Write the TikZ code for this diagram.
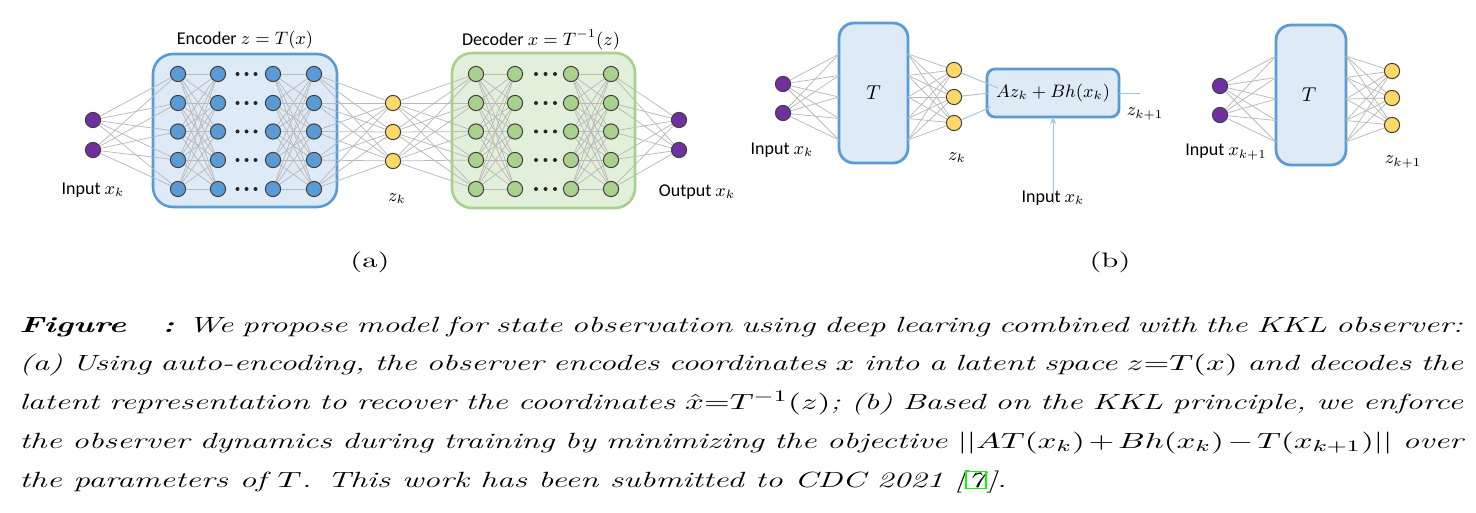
\documentclass[tikz,border=0pt]{standalone}
\usepackage{fontspec}
\newfontfamily\diagfont{Carlito}
\usetikzlibrary{arrows.meta}
\definecolor{encfill}{HTML}{DEEAF6}
\definecolor{encline}{HTML}{5B9BD5}
\definecolor{nblue}{HTML}{5B9BD5}
\definecolor{decfill}{HTML}{E2EFDA}
\definecolor{decline}{HTML}{A9D18E}
\definecolor{ngreen}{HTML}{A9D18E}
\definecolor{nyellow}{HTML}{FFD966}
\definecolor{npurple}{HTML}{7030A0}
\definecolor{bline}{HTML}{9DC3E6}
\definecolor{linkgreen}{HTML}{00FF00}
\pgfdeclarelayer{boxes}
\pgfdeclarelayer{lines}
\pgfsetlayers{boxes,lines,main}
\begin{document}
\begin{tikzpicture}[x=0.5pt,y=-0.5pt,
  neuron/.style={circle,draw=black!75,line width=0.5pt,minimum size=7.6pt,inner sep=0pt},
  nb/.style={neuron,fill=nblue},
  ng/.style={neuron,fill=ngreen},
  ny/.style={neuron,fill=nyellow},
  np/.style={neuron,fill=npurple},
  conn/.style={draw=black!27,line width=0.38pt},
  bconn/.style={draw=bline,line width=0.45pt},
  lbl/.style={font=\diagfont\fontsize{9}{10}\selectfont,inner sep=0pt},
  tlbl/.style={font=\fontsize{10}{11}\selectfont,inner sep=0pt},
  encbox/.style={fill=encfill,draw=encline,line width=1.3pt,rounded corners=10pt},
  decbox/.style={fill=decfill,draw=decline,line width=1.3pt,rounded corners=10pt},
  tbox/.style={fill=encfill,draw=encline,line width=1.4pt,rounded corners=7.5pt},
  abbox/.style={fill=encfill,draw=encline,line width=1.4pt,rounded corners=4pt},
  dotsty/.style={fill=black!85},
  panel/.style={font=\fontsize{10.5}{12}\selectfont,inner sep=0pt}]
\path[use as bounding box] (0,0) rectangle (1476,513);

% ---------------- panel (a) ----------------
\begin{pgfonlayer}{boxes}
\draw[encbox] (153,54) rectangle (337,207);
\draw[decbox] (452,53) rectangle (635,208);
\end{pgfonlayer}

\node[np] (in1) at (93,120) {};
\node[np] (in2) at (93,150) {};
\foreach \c/\x in {1/178,2/218,3/273,4/314}
  \foreach \r/\y in {1/74,2/103,3/131.5,4/160,5/189}
    \node[nb] (e\c-\r) at (\x,\y) {};
\node[ny] (z1) at (393,103) {};
\node[ny] (z2) at (393,132) {};
\node[ny] (z3) at (393,161) {};
\foreach \c/\x in {1/476,2/515,3/571,4/611}
  \foreach \r/\y in {1/74,2/103,3/131.5,4/160,5/189}
    \node[ng] (d\c-\r) at (\x,\y) {};
\node[np] (out1) at (679,120) {};
\node[np] (out2) at (679,150) {};

\foreach \y in {74,103,131.5,160,189}{
  \fill[dotsty] (237.5,\y) circle (1pt) (246.5,\y) circle (1pt) (255.5,\y) circle (1pt);
  \fill[dotsty] (536,\y) circle (1pt) (545.5,\y) circle (1pt) (555,\y) circle (1pt);
}

\begin{pgfonlayer}{lines}
\foreach \i in {1,2}
  \foreach \r in {1,...,5}{
    \draw[conn] (in\i) -- (e1-\r);
    \draw[conn] (d4-\r) -- (out\i);
  }
\foreach \a in {1,...,5}
  \foreach \b in {1,...,5}{
    \draw[conn] (e1-\a) -- (e2-\b);
    \draw[conn] (e3-\a) -- (e4-\b);
    \draw[conn] (d1-\a) -- (d2-\b);
    \draw[conn] (d3-\a) -- (d4-\b);
  }
\foreach \a in {1,...,5}
  \foreach \k in {1,2,3}{
    \draw[conn] (e4-\a) -- (z\k);
    \draw[conn] (z\k) -- (d1-\a);
  }
\end{pgfonlayer}

\node[lbl] (enclabel) at (245,40) {Encoder $z = T(x)$};
\node[lbl] (declabel) at (541,40) {Decoder $x = T^{-1}(z)$};
\node[lbl] (inlabel) at (93,190) {Input $x_k$};
\node[lbl] (zklabel) at (397,199) {$z_k$};
\node[lbl] (outlabel) at (697,192) {Output $x_k$};

% ---------------- panel (b) ----------------
\begin{pgfonlayer}{boxes}
\draw[tbox] (839,23) rectangle (908,163);
\draw[abbox] (987,69) rectangle (1119,117);
\draw[tbox] (1276,25) rectangle (1346,165);
\end{pgfonlayer}
\node[tlbl] (tone) at (873.5,93) {$T$};
\node[lbl] (abtext) at (1053,93) {$Az_k + Bh(x_k)$};
\node[tlbl] (ttwo) at (1309,95) {$T$};

\node[np] (b1) at (783,84) {};
\node[np] (b2) at (783,113) {};
\node[ny] (zb1) at (954,70) {};
\node[ny] (zb2) at (954,97) {};
\node[ny] (zb3) at (954,123) {};
\node[np] (c1) at (1220,86) {};
\node[np] (c2) at (1220,115) {};
\node[ny] (zc1) at (1392,71) {};
\node[ny] (zc2) at (1392,98) {};
\node[ny] (zc3) at (1392,125) {};

\foreach \r/\y in {1/54,2/75.5,3/97,4/118.5,5/140}{
  \coordinate (tl\r) at (839,\y);
  \coordinate (tr\r) at (908,\y);
}
\foreach \r/\y in {1/56,2/77.5,3/99,4/120.5,5/142}{
  \coordinate (ul\r) at (1276,\y);
  \coordinate (ur\r) at (1346,\y);
}
\begin{pgfonlayer}{lines}
\foreach \r in {1,...,5}{
  \foreach \i in {1,2}{
    \draw[conn] (b\i) -- (tl\r);
    \draw[conn] (c\i) -- (ul\r);
  }
  \foreach \k in {1,2,3}{
    \draw[conn] (tr\r) -- (zb\k);
    \draw[conn] (ur\r) -- (zc\k);
  }
}
\end{pgfonlayer}

\coordinate (abin1) at (998,88);
\coordinate (abin2) at (989,93);
\coordinate (abin3) at (991,107);
\draw[bconn] (zb1) -- (abin1);
\draw[bconn] (zb2) -- (abin2);
\draw[bconn] (zb3) -- (abin3);
\coordinate (abbot) at (1053,117);
\coordinate (abright) at (1119,93);
\coordinate (zout) at (1140,93);
\draw[bconn] (abright) -- (zout);

\node[lbl] (binlabel) at (782,150) {Input $x_k$};
\node[lbl] (zbklabel) at (957,158) {$z_k$};
\node[lbl] (zkonelabel) at (1145,114) {$z_{k+1}$};
\node[lbl] (inxlabel) at (1053,198) {Input $x_k$};
\draw[bconn,-{Stealth[length=3.5pt,width=3pt]}] ([yshift=-7pt]inxlabel.north) -- (abbot);
\node[lbl] (cinlabel) at (1226,152) {Input $x_{k+1}$};
\node[lbl] (zcklabel) at (1403,162) {$z_{k+1}$};

% ---------------- panel tags ----------------
\node[panel] (taga) at (370,262) {\scalebox{1.46}[1]{(a)}};
\node[panel] (tagb) at (1110,262) {\scalebox{1.46}[1]{(b)}};

% ---------------- caption ----------------
\node[anchor=base west,inner sep=0pt] (caption) at (19,332) {\scalebox{1.51}[1]{\parbox[t]{478pt}{\fontsize{11}{19.4}\selectfont\itshape
\makebox[478pt][s]{{\bfseries Figure\hspace{12pt}:} We propose model for state observation using deep learing combined with the KKL observer:}\\
\makebox[478pt][s]{(a) Using auto-encoding, the observer encodes coordinates $x$ into a latent space $z{=}T(x)$ and decodes the}\\
\makebox[478pt][s]{latent representation to recover the coordinates $\hat{x}{=}T^{-1}(z)$; (b) Based on the KKL principle, we enforce}\\
\makebox[478pt][s]{the observer dynamics during training by minimizing the objective $||AT(x_k)\mskip2mu{+}\mskip2mu Bh(x_k)\mskip2mu{-}\mskip2mu T(x_{k+1})||$ over}\\
the parameters of $T$. This work has been submitted to CDC 2021 [{\fboxsep=0.3pt\fboxrule=0.6pt\color{linkgreen}\fbox{\color{black}7}}].}}};
\end{tikzpicture}
\end{document}
